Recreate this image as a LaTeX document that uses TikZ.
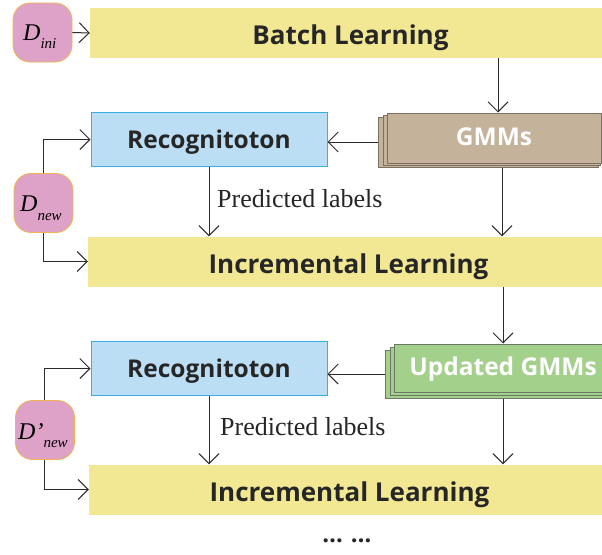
\documentclass[tikz,border=0pt]{standalone}
\usepackage{fontspec}
\setmainfont{Liberation Serif}
\newfontfamily\headfont{Open Sans}
\usetikzlibrary{arrows.meta}

\definecolor{learnfill}{HTML}{F2E894}
\definecolor{recfill}{HTML}{BCDEF4}
\definecolor{recline}{HTML}{3AAEE0}
\definecolor{datafill}{HTML}{DEA2C9}
\definecolor{dataline}{HTML}{F3B350}
\definecolor{gmmfill}{HTML}{C4B29A}
\definecolor{gmmline}{HTML}{7D7062}
\definecolor{updfill}{HTML}{A3D08B}
\definecolor{updline}{HTML}{6C7766}
\definecolor{wire}{HTML}{2B2B2B}

\tikzset{
  learnbox/.style={fill=learnfill, draw=none, minimum width=521pt, minimum height=50pt,
    inner sep=0pt, text height=23pt, text depth=0pt,
    font=\headfont\bfseries\fontsize{26}{26}\selectfont, text=black!85},
  recbox/.style={fill=recfill, draw=recline, line width=1pt, minimum width=236pt,
    minimum height=54pt, inner sep=0pt, text height=17pt, text depth=0pt,
    font=\headfont\bfseries\fontsize{24.5}{24.5}\selectfont, text=black!85},
  layer/.style={line width=1pt, inner sep=0pt},
  toplayer/.style={layer, text height=14pt, text depth=0pt,
    font=\headfont\bfseries\fontsize{24.5}{24.5}\selectfont, text=white},
  databox/.style={fill=datafill, draw=dataline, line width=0.8pt, rounded corners=17pt,
    minimum width=59pt, minimum height=59pt, inner sep=0pt},
  flow/.style={draw=wire, line width=1pt, -{Straight Barb[length=10pt,width=20pt,line width=1pt]}},
  labeltext/.style={anchor=base west, inner sep=0pt, font=\fontsize{26}{26}\selectfont, text=black!85},
}

\begin{document}
\begin{tikzpicture}[x=1pt,y=-1pt]
\clip (0,0) rectangle (602,554);
\fill[white] (0,0) rectangle (602,554);

% ---- batch stage ----
\node[learnbox] (batch) at (350.5,33) {Batch Learning};
\node[databox] (dini) at (42.5,32.5) {};
\node[anchor=base west, inner sep=0pt] (dinitxt) at (23,40) {\fontsize{24}{24}\selectfont\itshape D\raisebox{-8pt}{\fontsize{15}{15}\selectfont ini}};

% ---- GMMs (stacked) ----
\node[layer, fill=gmmfill, draw=gmmline, minimum width=220pt, minimum height=50pt] (gmm3) at (488,142) {};
\node[layer, fill=gmmfill, draw=gmmline, minimum width=217pt, minimum height=50pt] (gmm2) at (491.5,140) {};
\node[toplayer, fill=gmmfill, draw=gmmline, minimum width=214pt, minimum height=50pt] (gmm) at (494,138) {GMMs};

% ---- first incremental round ----
\node[recbox] (rec1) at (209,139.5) {Recognitoton};
\node[learnbox] (inc1) at (348.5,261.5) {Incremental Learning};
\node[databox] (dnew) at (43.5,203) {};
\node[anchor=base west, inner sep=0pt] (dnewtxt) at (20,211) {\fontsize{24}{24}\selectfont\itshape D\raisebox{-9pt}{\fontsize{15}{15}\selectfont new}};

% ---- updated GMMs (stacked) ----
\node[layer, fill=updfill, draw=updline, minimum width=226pt, minimum height=48pt] (upd3) at (498,374) {};
\node[layer, fill=updfill, draw=updline, minimum width=222pt, minimum height=48pt] (upd2) at (501,371) {};
\node[toplayer, fill=updfill, draw=updline, minimum width=218pt, minimum height=48pt] (upd) at (503,368) {Updated GMMs};

% ---- second incremental round ----
\node[recbox] (rec2) at (209,368.5) {Recognitoton};
\node[learnbox] (inc2) at (349.5,489.5) {Incremental Learning};
\node[databox] (dnew2) at (45,430) {};
\node[anchor=base west, inner sep=0pt] (dnew2txt) at (18,439) {\fontsize{24}{24}\selectfont\itshape D’\raisebox{-8pt}{\fontsize{15}{15}\selectfont new}};

\node[font=\headfont\bfseries\fontsize{24}{24}\selectfont, text=black!85] (dots) at (347,541) {…\hspace{8pt}…};

% ---- connectors ----
\coordinate (b1) at (498,58);
\draw[flow] (dini.east) -- (batch.west);
\draw[flow] (batch.south -| b1) -- (gmm.north -| b1);
\draw[flow] (gmm3.west) -- (rec1.east |- gmm3.west);
\coordinate (g1) at (502,0);
\draw[flow] (gmm3.south -| g1) -- (inc1.north -| g1);
\draw[flow] (rec1.south) -- (inc1.north -| rec1.south);
\node[labeltext] (pl1) at (217,207) {Predicted labels};
\coordinate (l1) at (43,0);
\draw[flow] (dnew.north -| l1) |- (rec1.west);
\draw[flow] (dnew.south -| l1) |- (inc1.west);

\coordinate (g2) at (503,0);
\draw[flow] (inc1.south -| g2) -- (upd.north -| g2);
\draw[flow] (upd3.west) -- (rec2.east |- upd3.west);
\draw[flow] (upd3.south -| g2) -- (inc2.north -| g2);
\draw[flow] (rec2.south) -- (inc2.north -| rec2.south);
\node[labeltext] (pl2) at (220,435) {Predicted labels};
\coordinate (l2) at (44,0);
\draw[flow] (dnew2.north -| l2) |- (rec2.west);
\draw[flow] (dnew2.south -| l2) |- (inc2.west);
\end{tikzpicture}
\end{document}
